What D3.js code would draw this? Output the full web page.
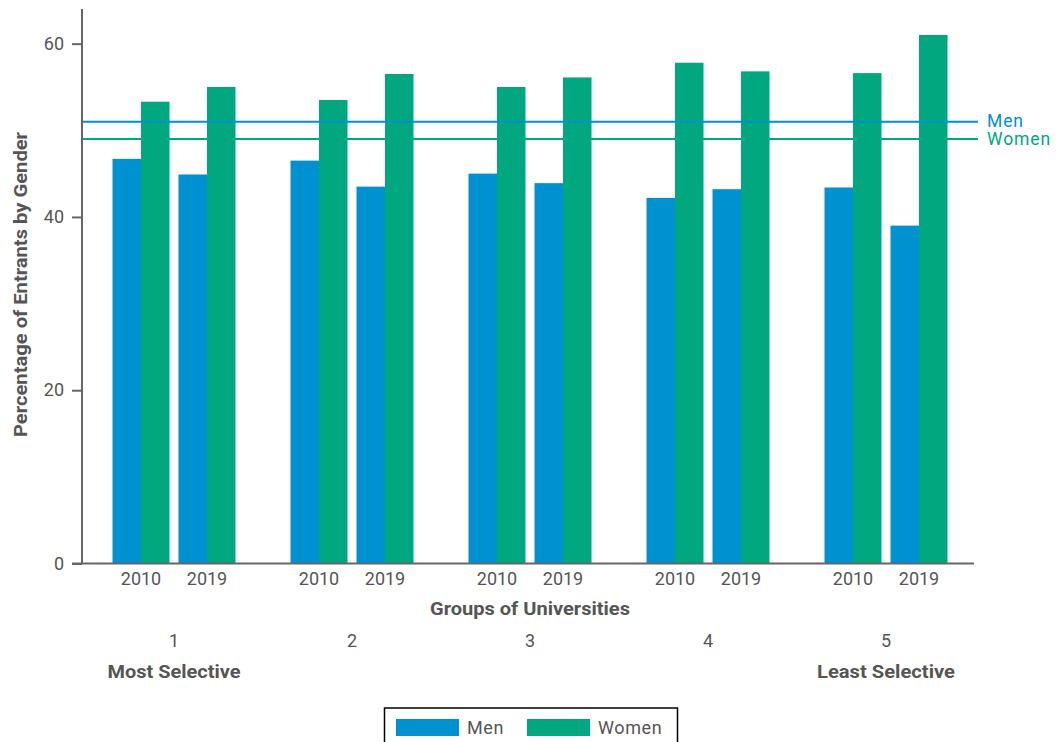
<!DOCTYPE html>
<html><head><meta charset="utf-8">
<script src="https://cdn.jsdelivr.net/npm/d3@7"></script>
<style>
body{margin:0;background:#fff;}
text{font-family:Roboto,"Noto Sans",sans-serif;}
</style></head>
<body><svg id="c" width="1058" height="742"></svg>
<script>
const groups = ["1","2","3","4","5"];
const years = ["2010","2019"];
const genders = ["Men","Women"];
const men2010 = [46.7, 46.5, 45.0, 42.2, 43.4];
const men2019 = [44.9, 43.5, 43.9, 43.2, 39.0];
const women2010 = [53.3, 53.5, 55.0, 57.8, 56.6];
const women2019 = [55.0, 56.5, 56.1, 56.8, 61.0];
const refLines = [{name:"Men", value:51}, {name:"Women", value:49}];
const yTicks = [0,20,40,60];
const groupEnds = {"1":"Most Selective","5":"Least Selective"};

const colors = {Men:"#0091d0", Women:"#00a77f"};
const textCol = "#555";
const axisCol = "#666";

const svg = d3.select("#c");
const axisX = 82, baseY = 563.5;
const y = d3.scaleLinear().domain([0,64]).range([baseY, 9]);
const x0 = d3.scaleBand().domain(groups).range([85, 975]);
const x1 = d3.scaleBand().domain(years).range([-61.5, 61.5]).paddingInner(9/66);
const x2 = d3.scaleBand().domain(genders).range([0, x1.bandwidth()]);

const data = [];
groups.forEach((g,i)=>{
  data.push({g, year:"2010", gender:"Men", v:men2010[i]});
  data.push({g, year:"2010", gender:"Women", v:women2010[i]});
  data.push({g, year:"2019", gender:"Men", v:men2019[i]});
  data.push({g, year:"2019", gender:"Women", v:women2019[i]});
});
const cx = g => x0(g) + x0.bandwidth()/2;

// bars
svg.append("g").selectAll("rect").data(data).join("rect")
  .attr("x", d => cx(d.g) + x1(d.year) + x2(d.gender))
  .attr("width", x2.bandwidth())
  .attr("y", d => y(d.v))
  .attr("height", d => baseY - y(d.v))
  .attr("fill", d => colors[d.gender]);

// reference lines
const refG = svg.append("g");
refLines.forEach(r=>{
  refG.append("line").attr("x1", axisX).attr("x2", 978)
    .attr("y1", y(r.value)).attr("y2", y(r.value))
    .attr("stroke", colors[r.name]).attr("stroke-width", 2);
  refG.append("text").attr("x", 987).attr("y", y(r.value)).attr("dy","0.33em")
    .attr("fill", colors[r.name]).attr("font-size", 17.5).attr("letter-spacing", 0.9).text(r.name);
});

// y axis
const yAxis = d3.axisLeft(y).tickValues(yTicks).tickSize(10).tickPadding(8).tickFormat(d3.format("d"));
const ya = svg.append("g").attr("transform", `translate(${axisX},0)`).call(yAxis);
ya.select(".domain").attr("stroke", axisCol).attr("stroke-width", 2).attr("d", `M0,${y(64)}V${baseY}`);
ya.selectAll(".tick line").attr("stroke", axisCol).attr("stroke-width", 2);
ya.selectAll(".tick text").attr("fill", textCol).attr("font-size", 18).attr("font-family","Roboto,sans-serif");

// x axis line
svg.append("line").attr("x1", 72).attr("x2", 974).attr("y1", baseY).attr("y2", baseY)
  .attr("stroke", axisCol).attr("stroke-width", 2);

// year labels
const yl = svg.append("g");
const endLen = {"1":133, "5":138};
groups.forEach(g=>{
  years.forEach(yr=>{
    yl.append("text").attr("x", cx(g) + x1(yr) + x1.bandwidth()/2).attr("y", 585)
      .attr("text-anchor","middle").attr("fill", textCol).attr("font-size", 18).text(yr);
  });
  svg.append("text").attr("x", cx(g)).attr("y", 647).attr("text-anchor","middle")
    .attr("fill", textCol).attr("font-size", 18).text(g);
  if (groupEnds[g]) {
    svg.append("text").attr("x", cx(g) - endLen[g]/2).attr("y", 678)
      .attr("textLength", endLen[g]).attr("lengthAdjust","spacingAndGlyphs")
      .attr("fill", textCol).attr("font-size", 17.5).attr("font-weight","bold").text(groupEnds[g]);
  }
});

svg.append("text").attr("x", 430).attr("y", 615).attr("textLength", 200).attr("lengthAdjust","spacingAndGlyphs")
  .attr("fill", textCol).attr("font-size", 17.5).attr("font-weight","bold").text("Groups of Universities");

svg.append("text").attr("transform", `translate(27,437) rotate(-90)`)
  .attr("textLength", 305).attr("lengthAdjust","spacingAndGlyphs")
  .attr("fill", textCol).attr("font-size", 17.5).attr("font-weight","bold").text("Percentage of Entrants by Gender");

// legend
const lg = svg.append("g");
lg.append("rect").attr("x", 384.5).attr("y", 708).attr("width", 293).attr("height", 50)
  .attr("fill","#fff").attr("stroke","#000").attr("stroke-width",1.5);
const legX = [396, 527];
genders.forEach((gd,i)=>{
  lg.append("rect").attr("x", legX[i]).attr("y", 719).attr("width", 63).attr("height", 17).attr("fill", colors[gd]);
  lg.append("text").attr("x", legX[i] + 71).attr("y", 727.5).attr("dy","0.35em")
    .attr("fill", textCol).attr("font-size", 18).attr("letter-spacing", 0.6).text(gd);
});
</script></body></html>
